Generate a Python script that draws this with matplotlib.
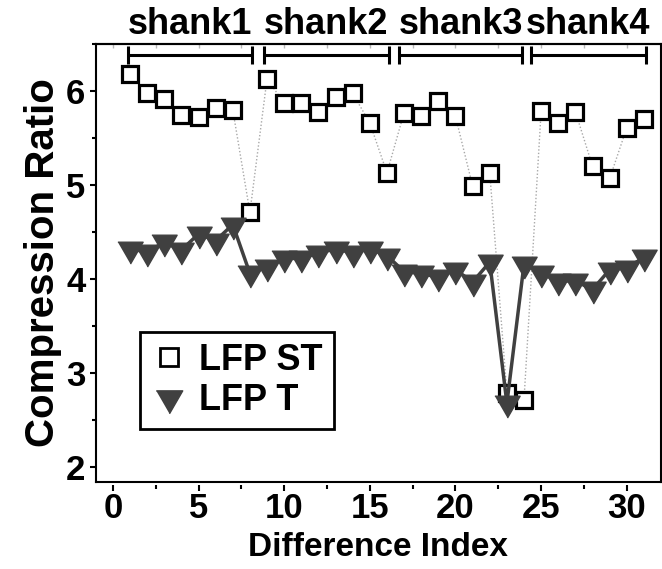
from __future__ import annotations

import matplotlib

matplotlib.use("Agg")
import matplotlib.pyplot as plt
from matplotlib.lines import Line2D
from matplotlib.ticker import MultipleLocator

# difference index along the probe (1..31)
diff_index = list(range(1, 32))

# compression ratio per difference index
lfp_st = [
    6.18, 5.975, 5.92, 5.745, 5.72, 5.82, 5.80, 4.71,
    6.13, 5.87, 5.87, 5.78, 5.94, 5.975, 5.66, 5.13,
    5.77, 5.735, 5.89, 5.73, 4.99, 5.13, 2.79, 2.72,
    5.79, 5.66, 5.78, 5.20, 5.07, 5.61, 5.70,
]
lfp_t = [
    4.32, 4.29, 4.39, 4.31, 4.48, 4.41, 4.58, 4.06,
    4.13, 4.22, 4.22, 4.28, 4.32, 4.28, 4.32, 4.25,
    4.08, 4.06, 4.02, 4.10, 3.97, 4.18, 2.68, 4.16,
    4.06, 3.98, 3.98, 3.89, 4.10, 4.12, 4.23,
]

shank_names = ["shank1", "shank2", "shank3", "shank4"]
shank_spans = [(0.9, 8.1), (8.8, 16.1), (16.7, 23.9), (24.4, 31.1)]

DARK = "#404040"
# equilateral down-pointing triangle, centred on its centroid
TRIANGLE = [(-0.866, 0.5), (0.866, 0.5), (0.0, -1.0)]


def main() -> None:
    plt.rcParams["font.family"] = ["Liberation Sans", "DejaVu Sans"]
    plt.rcParams["font.weight"] = "bold"

    fig = plt.figure(figsize=(6.62, 5.69), dpi=100)
    ax = fig.add_axes([0.1446, 0.1529, 0.854, 0.7698])

    ax.plot(diff_index, lfp_st, linestyle=(0, (1, 1.5)), color="#a8a8a8", lw=1.0,
            marker="s", markersize=11, markeredgewidth=2.3,
            markeredgecolor="black", markerfacecolor="white", zorder=2)
    ax.plot(diff_index, lfp_t, linestyle="-", color=DARK, lw=2.5,
            marker=TRIANGLE, markersize=21, markeredgewidth=1.0,
            markeredgecolor=DARK, markerfacecolor=DARK, zorder=3)

    ax.set_xlim(-1, 32)
    ax.set_ylim(1.843, 6.5)
    ax.xaxis.set_major_locator(MultipleLocator(5))
    ax.xaxis.set_minor_locator(MultipleLocator(2.5))
    ax.yaxis.set_major_locator(MultipleLocator(1))
    ax.yaxis.set_minor_locator(MultipleLocator(0.5))

    for side in ("left", "top", "right"):
        ax.spines[side].set_linewidth(1.5)
    # bottom axis sits just below the frame; the frame edge is drawn separately
    ax.spines["bottom"].set_position(("outward", 2))
    ax.spines["bottom"].set_visible(False)
    ax.plot([0, 1], [0, 0], transform=ax.transAxes, color="black", lw=1.5,
            clip_on=False, zorder=5)

    ax.tick_params(which="both", direction="out", width=1.5, labelsize=25, top=False, right=False)
    ax.tick_params(which="major", length=4.5)
    ax.tick_params(which="minor", length=3)
    ax.tick_params(axis="x", which="major", pad=1)
    ax.tick_params(axis="y", which="major", pad=3)

    top = ax.secondary_xaxis("top")
    top.xaxis.set_major_locator(MultipleLocator(2.5))
    top.tick_params(direction="in", length=3, width=1, color="#b8b8b8", labeltop=False)
    top.spines["top"].set_linewidth(1.5)

    ax.set_xlabel("Difference Index", fontsize=24, fontweight="bold")
    ax.xaxis.set_label_coords(0.5, -0.1137)
    ax.set_ylabel("Compression Ratio", fontsize=29, fontweight="bold", labelpad=3)

    # shank brackets along the top of the frame
    for name, (start, end) in zip(shank_names, shank_spans):
        ax.plot([start, end], [6.38, 6.38], color="black", lw=2.2, solid_capstyle="butt",
                zorder=4)
        ax.vlines([start, end], 6.285, 6.475, color="black", lw=2.2, zorder=4)
        ax.text((start + end) / 2, 1.022, name, transform=ax.get_xaxis_transform(),
                ha="center", va="baseline", fontsize=26, fontweight="bold")

    handles = [
        Line2D([], [], linestyle="none", marker="s", markersize=13, markeredgewidth=2,
               markeredgecolor="black", markerfacecolor="white"),
        Line2D([], [], linestyle="none", marker=TRIANGLE, markersize=22,
               markeredgewidth=1, markeredgecolor=DARK, markerfacecolor=DARK),
    ]
    legend = ax.legend(handles, ["LFP ST", "LFP T"], loc="upper left",
                       bbox_to_anchor=(0.078, 0.342), borderaxespad=0,
                       fancybox=False, edgecolor="black", framealpha=1,
                       prop={"size": 26, "weight": "bold"}, handlelength=1.0,
                       handletextpad=0.35, labelspacing=0.15, borderpad=0.3)
    legend.get_frame().set_linewidth(2)

    fig.savefig("out.png", dpi=100)
    plt.close(fig)


if __name__ == "__main__":
    main()
